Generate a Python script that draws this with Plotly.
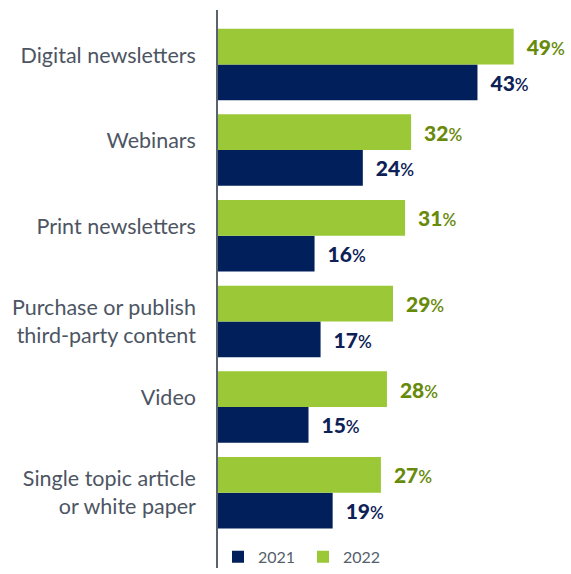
import plotly.graph_objects as go

categories = [
    "Digital newsletters",
    "Webinars",
    "Print newsletters",
    "Purchase or publish<br>third-party content",
    "Video",
    "Single topic article<br>or white paper",
]
values_2021 = [43, 24, 16, 17, 15, 19]
values_2022 = [49, 32, 31, 29, 28, 27]

NAVY = "#001f5b"
GREEN = "#9ac836"
GREEN_TEXT = "#688a0a"
NAVY_TEXT = "#0d2157"
GRAY = "#4d5563"
FONT = "Lato"

# first category at the top
n = len(categories)
rows = [n - 1 - i for i in range(n)]
# one-line labels sit a little above the middle of their pair of bars
label_pos = [r + (0 if "<br>" in c else 0.11) for r, c in zip(rows, categories)]


def pct_labels(vals):
    return [
        "\u00a0\u00a0%d<span style='font-size:17px;font-weight:600'>%%</span>" % v
        for v in vals
    ]


fig = go.Figure()
fig.add_trace(go.Bar(
    name="2021", y=rows, x=values_2021, orientation="h",
    marker=dict(color=NAVY, line=dict(width=0)),
    text=pct_labels(values_2021), textposition="outside",
    textfont=dict(size=21, color=NAVY_TEXT, family=FONT, weight=900),
    cliponaxis=False, hoverinfo="x",
))
fig.add_trace(go.Bar(
    name="2022", y=rows, x=values_2022, orientation="h",
    marker=dict(color=GREEN, line=dict(width=0)),
    text=pct_labels(values_2022), textposition="outside",
    textfont=dict(size=21, color=GREEN_TEXT, family=FONT, weight=900),
    cliponaxis=False, hoverinfo="x",
))

fig.update_layout(
    width=571, height=574,
    margin=dict(l=218, r=0, t=10, b=0),
    paper_bgcolor="white", plot_bgcolor="white",
    barmode="group", bargap=0.165, bargroupgap=0,
    font=dict(family=FONT, color=GRAY),
    showlegend=True,
    legend=dict(
        orientation="h", x=0.0, xanchor="left", y=0.02, yanchor="middle",
        font=dict(size=16, color="#555e6b", family=FONT), bgcolor="rgba(0,0,0,0)",
        itemwidth=30, entrywidth=40,
    ),
)
fig.update_xaxes(range=[0, 58.5], visible=False)
fig.update_yaxes(
    tickmode="array", tickvals=label_pos, ticktext=categories,
    range=[-0.878, 5.635],
    showline=True, linecolor="#5a6270", linewidth=1.5,
    showgrid=False, zeroline=False,
    ticks="outside", ticklen=0, ticklabelstandoff=16,
    tickfont=dict(size=21.5, color=GRAY, family=FONT),
)

fig.write_html("out.html")
